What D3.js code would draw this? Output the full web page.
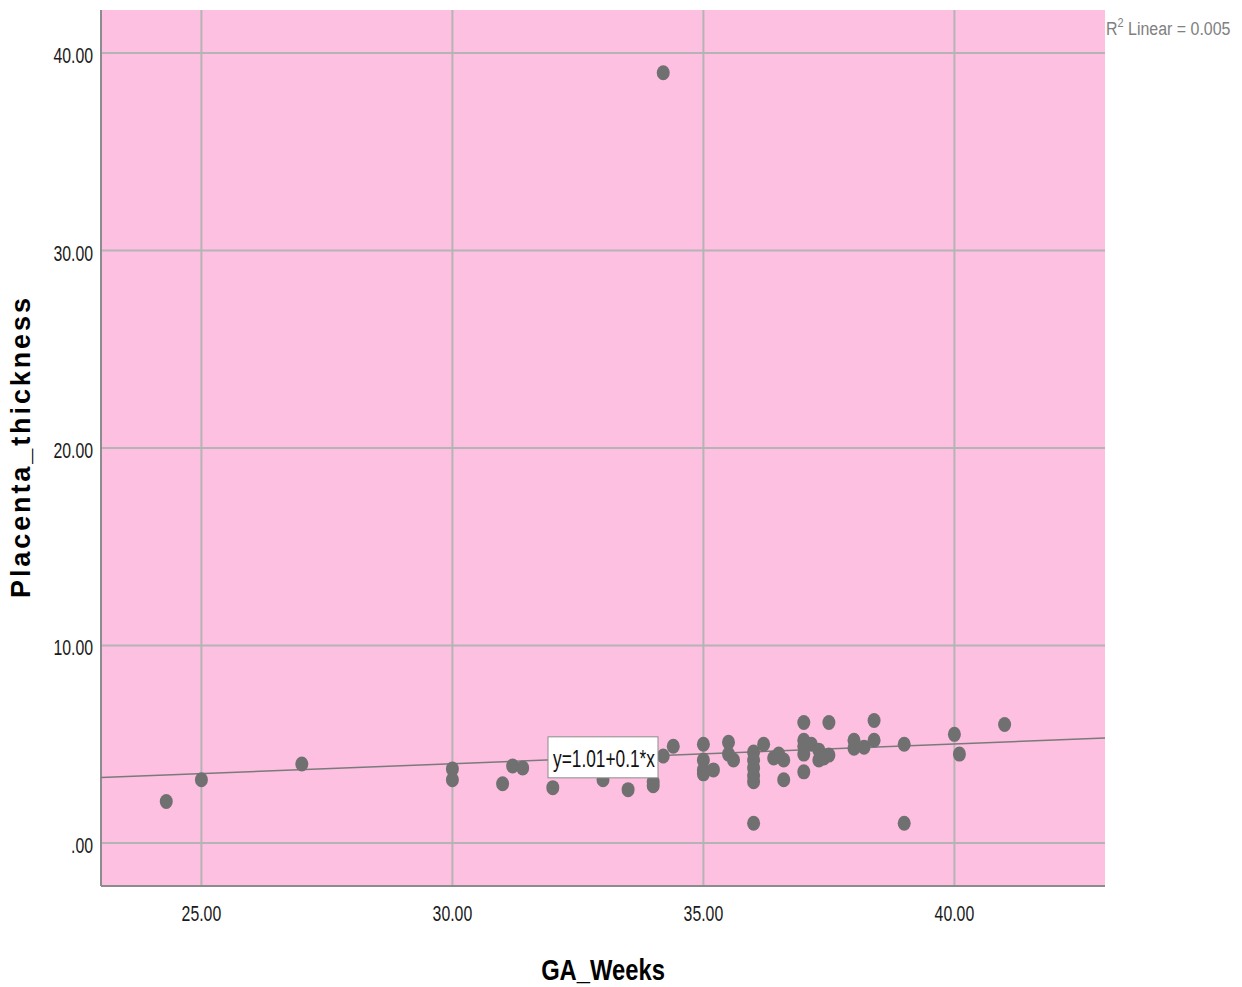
<!DOCTYPE html>
<html lang="en">
<head>
  <meta charset="UTF-8" />
  <title>Placenta_thickness vs GA_Weeks</title>
  <script src="https://d3js.org/d3.v7.min.js"></script>
  <style>
    body { margin: 0; background: #fff; }
    svg { display: block; }
    text { font-family: "Liberation Sans", Arial, sans-serif; }
  </style>
</head>
<body>
  <svg id="chart" width="1242" height="987"></svg>
  <script>
    // datos
    const gaWeeks = [24.3, 25.0, 27.0, 30.0, 30.0, 31.0, 31.2, 31.4, 32.0, 33.0, 33.5, 34.0, 34.0, 34.2, 34.2,
      34.4, 35.0, 35.0, 35.0, 35.0, 35.2, 35.5, 35.5, 35.6, 36.0, 36.0, 36.0, 36.0, 36.0, 36.0,
      36.2, 36.4, 36.5, 36.6, 36.6, 37.0, 37.0, 37.0, 37.0, 37.0, 37.15, 37.3, 37.3, 37.4, 37.5,
      37.5, 38.0, 38.0, 38.2, 38.4, 38.4, 39.0, 39.0, 40.0, 40.1, 41.0];
    const placentaThickness = [2.1, 3.2, 4.0, 3.75, 3.2, 3.0, 3.9, 3.8, 2.8, 3.2, 2.7, 2.9, 3.1, 4.4, 39.0,
      4.9, 5.0, 4.2, 3.7, 3.5, 3.7, 5.1, 4.5, 4.2, 4.6, 4.2, 3.8, 3.4, 3.1, 1.0,
      5.0, 4.3, 4.5, 4.2, 3.2, 6.1, 5.2, 4.9, 4.5, 3.6, 5.0, 4.7, 4.2, 4.3, 4.45,
      6.1, 5.2, 4.8, 4.85, 6.2, 5.2, 5.0, 1.0, 5.5, 4.5, 6.0];
    const xTicks = [25, 30, 35, 40];
    const yTicks = [0, 10, 20, 30, 40];
    const fitIntercept = 1.01, fitSlope = 0.1;
    const fitLabel = "y=1.01+0.1*x";
    const r2Label = "0.005";

    const plotL = 101, plotR = 1105, plotT = 10, plotB = 886;
    const x = d3.scaleLinear().domain([23, 43]).range([plotL, plotR]);
    const y = d3.scaleLinear().domain([-2.18, 42.18]).range([plotB, plotT]);
    const squeeze = 0.72; // las etiquetas de SPSS salen estrechas

    const svg = d3.select("#chart");

    // fondo del área
    svg.append("rect")
      .attr("x", plotL).attr("y", plotT)
      .attr("width", plotR - plotL).attr("height", plotB - plotT)
      .attr("fill", "#fdc0e0");

    // rejilla
    svg.append("g").selectAll("line").data(xTicks).enter().append("line")
      .attr("x1", d => x(d)).attr("x2", d => x(d))
      .attr("y1", plotT).attr("y2", plotB)
      .attr("stroke", "#b4b4b4").attr("stroke-width", 2);
    svg.append("g").selectAll("line").data(yTicks).enter().append("line")
      .attr("x1", plotL).attr("x2", plotR)
      .attr("y1", d => y(d)).attr("y2", d => y(d))
      .attr("stroke", "#b4b4b4").attr("stroke-width", 2);

    // ejes
    svg.append("line").attr("x1", plotL).attr("x2", plotL).attr("y1", plotT).attr("y2", plotB)
      .attr("stroke", "#8c8c8c").attr("stroke-width", 2);
    svg.append("line").attr("x1", plotL).attr("x2", plotR).attr("y1", plotB).attr("y2", plotB)
      .attr("stroke", "#8c8c8c").attr("stroke-width", 2);

    // etiquetas de ticks
    svg.append("g").selectAll("text").data(xTicks).enter().append("text")
      .attr("transform", d => `translate(${x(d)},921) scale(${squeeze},1)`)
      .attr("text-anchor", "middle").attr("font-size", 22).attr("fill", "#1a1a1a")
      .text(d => d.toFixed(2));
    svg.append("g").selectAll("text").data(yTicks).enter().append("text")
      .attr("transform", d => `translate(93,${y(d) + 10}) scale(${squeeze},1)`)
      .attr("text-anchor", "end").attr("font-size", 22).attr("fill", "#1a1a1a")
      .text(d => d === 0 ? ".00" : d.toFixed(2));

    // recta de regresión
    const fitX = x.domain();
    svg.append("line")
      .attr("x1", x(fitX[0])).attr("y1", y(fitIntercept + fitSlope * fitX[0]))
      .attr("x2", x(fitX[1])).attr("y2", y(fitIntercept + fitSlope * fitX[1]))
      .attr("stroke", "#7a7a7a").attr("stroke-width", 1.5);

    // puntos
    svg.append("g").selectAll("ellipse").data(gaWeeks).enter().append("ellipse")
      .attr("cx", (d, i) => x(d))
      .attr("cy", (d, i) => y(placentaThickness[i]))
      .attr("rx", 6.5).attr("ry", 7.5)
      .attr("fill", "#707070");

    // etiqueta de la ecuación
    const lx = 33.0, ly = fitIntercept + fitSlope * lx;
    svg.append("rect")
      .attr("x", x(lx) - 55).attr("y", y(ly) - 21)
      .attr("width", 110).attr("height", 41)
      .attr("fill", "#fff").attr("stroke", "#8c8c8c").attr("stroke-width", 1);
    svg.append("text")
      .attr("transform", `translate(${x(lx) + 1},${y(ly) + 9}) scale(${squeeze},1)`)
      .attr("text-anchor", "middle").attr("font-size", 24).attr("fill", "#111")
      .text(fitLabel);

    // R2
    const r2 = svg.append("text")
      .attr("transform", "translate(1106,35) scale(0.84,1)")
      .attr("font-size", 19).attr("fill", "#808080");
    r2.append("tspan").text("R");
    r2.append("tspan").attr("dy", -8).attr("font-size", 13).text("2");
    r2.append("tspan").attr("dy", 8).text(" Linear = " + r2Label);

    // títulos
    svg.append("text")
      .attr("transform", "translate(603,980) scale(0.82,1)")
      .attr("text-anchor", "middle").attr("font-size", 29).attr("font-weight", "bold")
      .text("GA_Weeks");
    svg.append("text")
      .attr("transform", "translate(30,448) rotate(-90)")
      .attr("text-anchor", "middle")
      .attr("font-size", 27).attr("font-weight", "bold")
      .attr("textLength", 300).attr("lengthAdjust", "spacing")
      .text("Placenta_thickness");
  </script>
</body>
</html>
